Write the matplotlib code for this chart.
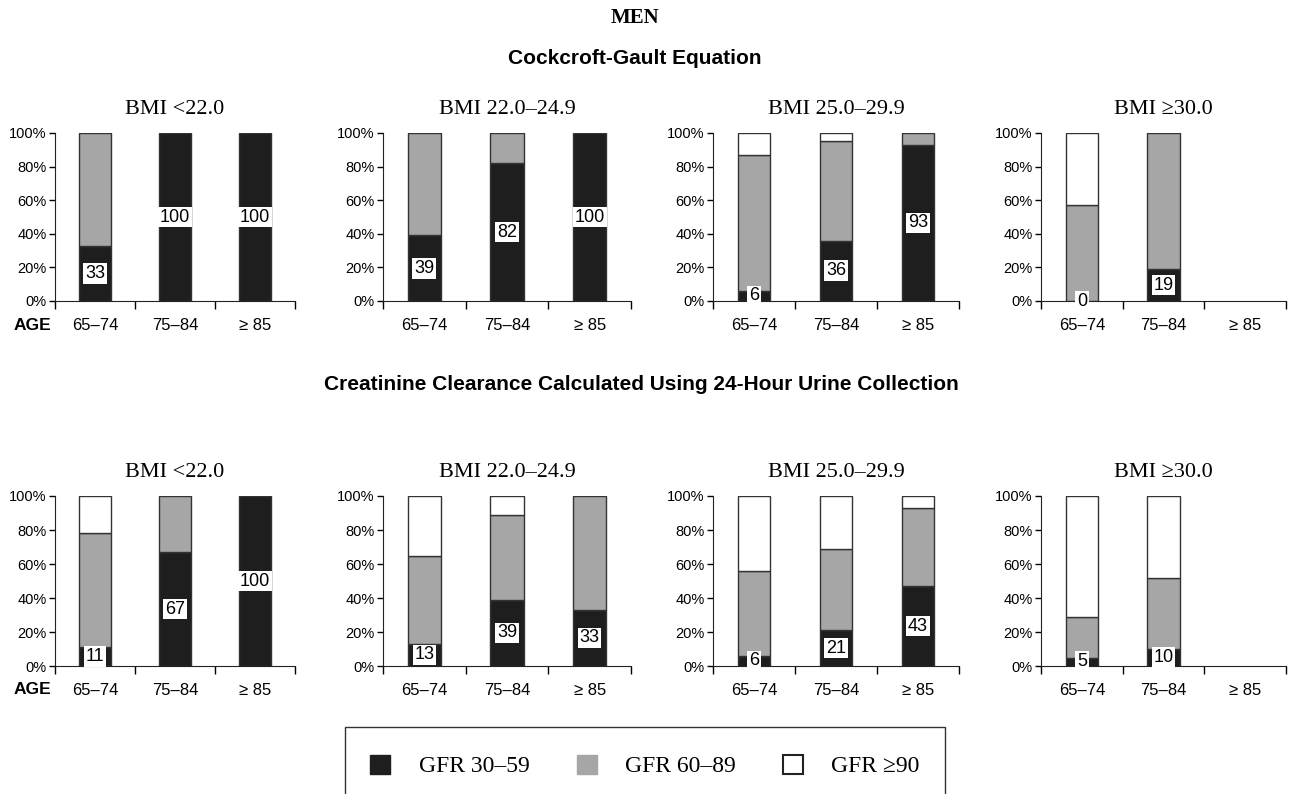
import matplotlib
matplotlib.use('Agg')
import matplotlib.pyplot as plt
from matplotlib.patches import Patch, Rectangle
import numpy as np

# age groups and BMI panels
groups = ['65–74', '75–84', '≥ 85']
bmi_titles = ['BMI <22.0', 'BMI 22.0–24.9', 'BMI 25.0–29.9', 'BMI ≥30.0']

# Cockcroft-Gault (% of men per GFR class)
cg_gfr30 = [[33, 100, 100], [39, 82, 100], [6, 36, 93], [0, 19, 0]]
cg_gfr60 = [[67, 0, 0], [61, 18, 0], [81, 59, 7], [57, 81, 0]]
cg_gfr90 = [[0, 0, 0], [0, 0, 0], [13, 5, 0], [43, 0, 0]]
cg_labels = [['33', '100', '100'], ['39', '82', '100'], ['6', '36', '93'], ['0', '19', '']]

# 24-hour urine creatinine clearance
cc_gfr30 = [[11, 67, 100], [13, 39, 33], [6, 21, 47], [5, 10, 0]]
cc_gfr60 = [[67, 33, 0], [52, 50, 67], [50, 48, 46], [24, 42, 0]]
cc_gfr90 = [[22, 0, 0], [35, 11, 0], [44, 31, 7], [71, 48, 0]]
cc_labels = [['11', '67', '100'], ['13', '39', '33'], ['6', '21', '43'], ['5', '10', '']]

legend_labels = ['GFR 30–59', 'GFR 60–89', 'GFR ≥90']

BLACK = '#1e1e1e'
GRAY = '#a6a6a6'
EDGE = '#333333'
SERIF = ['Liberation Serif', 'DejaVu Serif']
SANS = ['Liberation Sans', 'DejaVu Sans']

plt.rcParams['font.family'] = SANS

W, H = 1295, 794
fig = plt.figure(figsize=(W / 100, H / 100), dpi=100)


def fx(px):
    return px / W


def fy(py):
    return 1 - py / H


lefts = [55, 383, 713, 1041]
widths = [240, 248, 246, 245]


def draw_row(top, bottom, g30, g60, g90, labels):
    x = np.arange(len(groups))
    for i in range(4):
        ax = fig.add_axes([fx(lefts[i]), fy(bottom), fx(widths[i]), (bottom - top) / H])
        b30 = np.array(g30[i])
        b60 = np.array(g60[i])
        b90 = np.array(g90[i])
        for vals, base, col in [(b30, 0, BLACK), (b60, b30, GRAY), (b90, b30 + b60, 'white')]:
            ec = [EDGE if v > 0 else 'none' for v in vals]
            ax.bar(x, vals, bottom=base, width=0.4, color=col, edgecolor=ec, linewidth=1)
        for j, lab in enumerate(labels[i]):
            if lab == '':
                continue
            ax.text(x[j], b30[j] / 2, lab, ha='center', va='center', fontsize=13,
                    bbox=dict(boxstyle='square,pad=0.1', facecolor='white', edgecolor='none'))
        ax.set_xlim(-0.5, 2.5)
        ax.set_ylim(0, 100)
        ax.set_yticks(range(0, 101, 20))
        ax.set_yticklabels(['%d%%' % v for v in range(0, 101, 20)], fontsize=10.5)
        ax.set_xticks([-0.5, 0.5, 1.5, 2.5])
        ax.set_xticklabels([])
        ax.set_xticks(x, minor=True)
        ax.set_xticklabels(groups, minor=True, fontsize=12)
        ax.tick_params(axis='x', which='major', length=6, width=1, direction='out')
        ax.tick_params(axis='x', which='minor', length=0, pad=12)
        ax.tick_params(axis='y', length=4, width=1, pad=2)
        for s in ['top', 'right']:
            ax.spines[s].set_visible(False)
        for s in ['left', 'bottom']:
            ax.spines[s].set_color('#222222')
        ax.set_title(bmi_titles[i], fontsize=16, family=SERIF, pad=14)


draw_row(133, 301, cg_gfr30, cg_gfr60, cg_gfr90, cg_labels)
draw_row(496, 666, cc_gfr30, cc_gfr60, cc_gfr90, cc_labels)

fig.text(0.49, fy(18), 'MEN', ha='center', va='center', fontsize=15, fontweight='bold', family=SERIF)
fig.text(0.49, fy(58), 'Cockcroft-Gault Equation', ha='center', va='center',
         fontsize=15, fontweight='bold')
fig.text(0.495, fy(384), 'Creatinine Clearance Calculated Using 24-Hour Urine Collection',
         ha='center', va='center', fontsize=15, fontweight='bold')
for yy in [325, 690]:
    fig.text(fx(14), fy(yy), 'AGE', ha='left', va='center', fontsize=12.5, fontweight='bold')

# legend box runs off the bottom of the figure
fig.patches.append(Rectangle((fx(345), fy(830)), fx(600), (830 - 727) / H,
                             transform=fig.transFigure, facecolor='none',
                             edgecolor='#333333', linewidth=1))
handles = [Patch(facecolor=BLACK, edgecolor=BLACK),
           Patch(facecolor=GRAY, edgecolor=GRAY),
           Patch(facecolor='white', edgecolor='#222222', linewidth=1.5)]
fig.legend(handles, legend_labels, loc='center', bbox_to_anchor=(fx(645), fy(766)),
           ncol=3, frameon=False, prop={'family': SERIF, 'size': 17},
           handlelength=0.85, handleheight=0.85, handletextpad=1.2, columnspacing=2.0)

fig.savefig('out.png', dpi=100, facecolor='white')
